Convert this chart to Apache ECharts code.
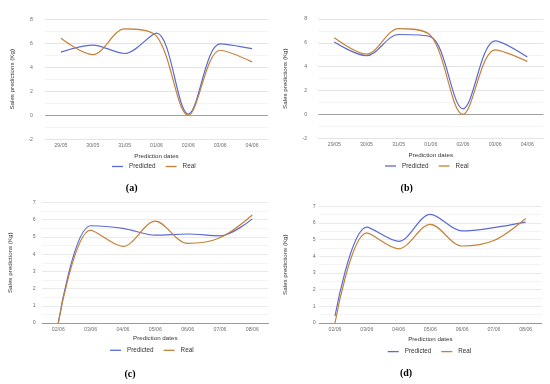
<!DOCTYPE html>
<html>
<head>
<meta charset="utf-8">
<script src="https://cdn.jsdelivr.net/npm/echarts@6/dist/echarts.min.js"></script>
<style>
html,body{margin:0;padding:0;background:#fff;}
#chart{width:550px;height:384px;}
</style>
</head>
<body>
<div id="chart"></div>
<script>
// ---- data ----
const categoriesAB = ['29/05','30/05','31/05','01/06','02/06','03/06','04/06'];
const predictedA = [5.27, 5.85, 5.15, 6.85, 0.1, 5.95, 5.55];
const realA = [6.42, 5.05, 7.2, 6.6, 0.0, 5.42, 4.45];
const predictedB = [6.07, 4.92, 6.7, 6.5, 0.47, 6.17, 4.82];
const realB = [6.42, 5.05, 7.2, 6.6, 0.0, 5.42, 4.45];
const categoriesCD = ['02/06','03/06','04/06','05/06','06/06','07/06','08/06'];
const predictedC = [0, 5.65, 5.5, 5.1, 5.17, 5.06, 6.05];
const realC = [0, 5.4, 4.45, 5.92, 4.62, 4.95, 6.27];
const predictedD = [0.42, 5.75, 4.9, 6.52, 5.52, 5.72, 6.05];
const realD = [0, 5.4, 4.45, 5.92, 4.62, 4.95, 6.27];
const yRangeAB = {min: -2, max: 8, interval: 2};
const yRangeCD = {min: 0, max: 7, interval: 1};
const panelLabels = ['(a)', '(b)', '(c)', '(d)'];
const seriesNames = ['Predicted', 'Real'];
const xAxisName = 'Prediction dates';
const yAxisName = 'Sales predictions (Kg)';

// ---- styling / layout ----
const COL_PRED = '#5b6bd3';
const COL_REAL = '#c4823a';
const SMOOTH = 0.33;
const FONT = 'Liberation Sans, Arial, sans-serif';
const panels = [
  {grid:{left:45, top:19.3, width:223, height:120}, cats:categoriesAB, pred:predictedA, real:realA, y:yRangeAB, zeroDark:true,
   yLabelMargin:12, yNameGap:30, xNameGap:13.5, legend:{left:112, top:163.5}, label:{x:131.7, y:183}},
  {grid:{left:318.2, top:19, width:225.2, height:119.3}, cats:categoriesAB, pred:predictedB, real:realB, y:yRangeAB, zeroDark:true,
   yLabelMargin:11, yNameGap:30, xNameGap:13.5, legend:{left:385, top:163}, label:{x:406.7, y:183}},
  {grid:{left:42.1, top:202.5, width:226.4, height:120.5}, cats:categoriesCD, pred:predictedC, real:realC, y:yRangeCD, zeroDark:false,
   yLabelMargin:6.5, yNameGap:29, xNameGap:12, legend:{left:110, top:347.3}, label:{x:130, y:369.5}},
  {grid:{left:319.1, top:206.3, width:222.5, height:116.7}, cats:categoriesCD, pred:predictedD, real:realD, y:yRangeCD, zeroDark:false,
   yLabelMargin:3.5, yNameGap:31, xNameGap:13.5, legend:{left:387.7, top:348.6}, label:{x:406, y:368}}
];

const grid = [], xAxis = [], yAxis = [], series = [], legend = [], title = [];
panels.forEach((p, i) => {
  grid.push(Object.assign({containLabel:false}, p.grid));
  xAxis.push({
    type:'category', gridIndex:i, data:p.cats, boundaryGap:true,
    name:xAxisName, nameLocation:'middle', nameGap:p.xNameGap,
    nameTextStyle:{fontFamily:FONT, fontSize:6.2, color:'#333'},
    axisLine:{show:!p.zeroDark, onZero:false, lineStyle:{color:'#9a9a9a', width:1}},
    axisTick:{show:false},
    axisLabel:{fontFamily:FONT, fontSize:5.2, color:'#6f6f6f', margin:4},
    splitLine:{show:false}
  });
  const nLines = Math.round((p.y.max - p.y.min) / p.y.interval) + 1;
  const lineColors = [];
  for (let k = 0; k < nLines; k++) {
    const v = p.y.min + k * p.y.interval;
    lineColors.push(p.zeroDark && v === 0 ? '#a0a0a0' : '#e4e4e4');
  }
  yAxis.push({
    type:'value', gridIndex:i, min:p.y.min, max:p.y.max, interval:p.y.interval,
    name:yAxisName, nameLocation:'middle', nameGap:p.yNameGap, nameRotate:90,
    nameTextStyle:{fontFamily:FONT, fontSize:6.2, color:'#333'},
    axisLine:{show:false}, axisTick:{show:false},
    axisLabel:{fontFamily:FONT, fontSize:5.2, color:'#6f6f6f', margin:p.yLabelMargin},
    splitLine:{show:true, lineStyle:{color:lineColors, width:p.zeroDark ? 1 : 0.8}},
    minorTick:{show:false, splitNumber:2},
    minorSplitLine:{show:true, lineStyle:{color:'#f1f1f1', width:0.8}}
  });
  series.push({
    name:seriesNames[0], type:'line', xAxisIndex:i, yAxisIndex:i, data:p.pred,
    smooth:SMOOTH, showSymbol:false, symbol:'none', lineStyle:{color:COL_PRED, width:1.2}, itemStyle:{color:COL_PRED}
  });
  series.push({
    name:seriesNames[1], type:'line', xAxisIndex:i, yAxisIndex:i, data:p.real,
    smooth:SMOOTH, showSymbol:false, symbol:'none', lineStyle:{color:COL_REAL, width:1.2}, itemStyle:{color:COL_REAL}
  });
  legend.push({
    data:seriesNames, left:p.legend.left, top:p.legend.top, orient:'horizontal',
    icon:'rect', itemWidth:11, itemHeight:1.3, itemGap:10, padding:0,
    textStyle:{fontFamily:FONT, fontSize:6.3, color:'#333', padding:[0,0,0,1]}
  });
  title.push({
    text:panelLabels[i], left:p.label.x, top:p.label.y, textAlign:'center', padding:0,
    textStyle:{fontFamily:'Liberation Serif, Times New Roman, serif', fontWeight:'bold', fontSize:10, color:'#000'}
  });
});

const chart = echarts.init(document.getElementById('chart'), null, {renderer:'canvas'});
chart.setOption({
  backgroundColor:'#ffffff',
  animation:false,
  title, grid, xAxis, yAxis, series, legend
});
</script>
</body>
</html>
